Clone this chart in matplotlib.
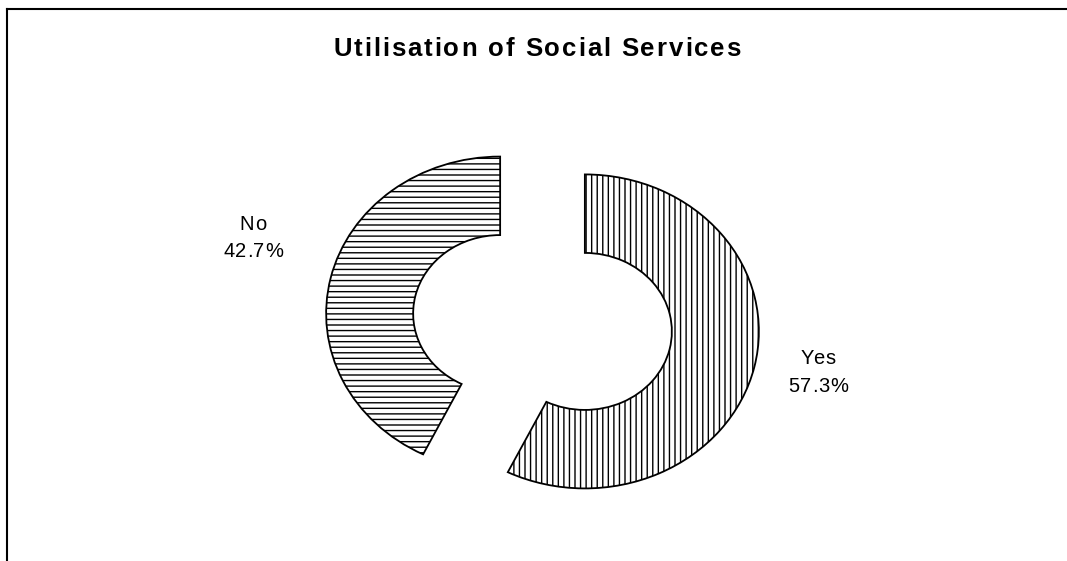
import matplotlib
matplotlib.use("Agg")
import matplotlib.pyplot as plt
from matplotlib.lines import Line2D

categories = ["Yes", "No"]
shares = [57.3, 42.7]
hatches = ["|||", "---"]
title = "Utilisation of Social Services"

plt.rcParams["font.family"] = ["Liberation Sans", "DejaVu Sans"]
plt.rcParams["hatch.linewidth"] = 1.0

W, H = 1067, 561
fig = plt.figure(figsize=(W / 100, H / 100), dpi=100)
renderer = fig.canvas.get_renderer()


def advance(ch, size, weight):
    """Horizontal advance of one character, in pixels."""
    def width(s):
        t = fig.text(0, 0, s, fontsize=size, fontweight=weight)
        w = t.get_window_extent(renderer).width
        t.remove()
        return w
    return width("a" + ch + "a") - width("aa")


def tracked_text(xc, yc, s, size, weight="normal", tracking=0.0):
    """Draw s centred at pixel (xc, yc from top) with extra letter spacing."""
    adv = [advance(c, size, weight) for c in s]
    total = sum(adv) + tracking * (len(s) - 1)
    x = xc - total / 2
    for c, a in zip(s, adv):
        fig.text(x / W, 1 - yc / H, c, fontsize=size, fontweight=weight,
                 ha="left", va="center_baseline", color="black")
        x += a + tracking


# axes placed so that one data unit = 174 px across and 157 px down
xr, yr = 2.5, 1.4
px_x, px_y = 174.0, 157.0
cx, cy = 542.5, 322.5
left = (cx - xr * px_x) / W
bottom = (H - (cy + yr * px_y)) / H
ax = fig.add_axes([left, bottom, 2 * xr * px_x / W, 2 * yr * px_y / H])

wedges, _ = ax.pie(
    shares,
    explode=[0.25, 0.25],
    startangle=90,
    counterclock=False,
    radius=1.0,
    colors=["white", "white"],
    hatch=hatches,
    wedgeprops=dict(width=0.5, edgecolor="black", linewidth=1.3),
)
ax.set_aspect("auto")
ax.set_xlim(-xr, xr)
ax.set_ylim(-yr, yr)
ax.axis("off")

# slice labels: name over percentage, placed beside each slice
label_px = {"Yes": (818, 357), "No": (253, 222)}
for cat, val in zip(categories, shares):
    x, y = label_px[cat]
    tracked_text(x, y, cat, 14.5, tracking=0.6)
    tracked_text(x, y + 28, f"{val:.1f}%", 14.5, tracking=0.6)

tracked_text(537, 47, title, 18.5, weight="bold", tracking=1.9)

# frame lines along the top and left edges
fig.add_artist(Line2D([7 / W, 1.0], [1 - 9 / H, 1 - 9 / H], color="black", linewidth=1.5))
fig.add_artist(Line2D([7 / W, 7 / W], [0.0, 1 - 9 / H], color="black", linewidth=1.5))

fig.savefig("out.png", dpi=100, facecolor="white")
